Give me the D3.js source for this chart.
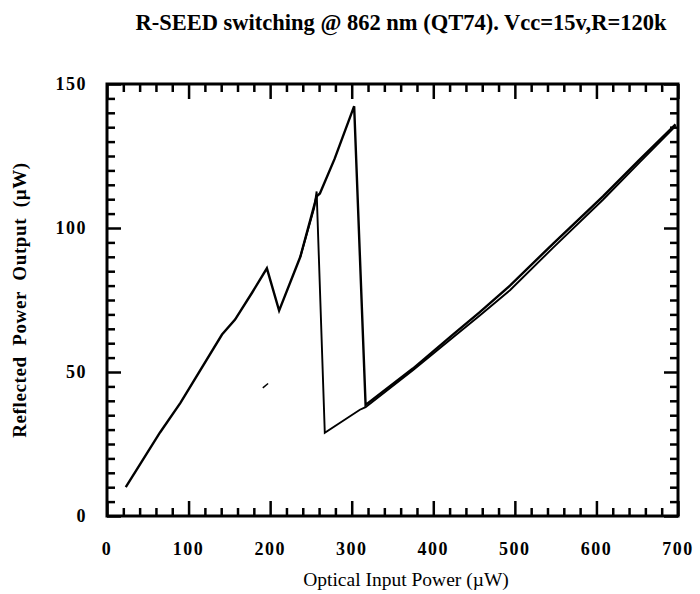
<!DOCTYPE html>
<html>
<head>
<meta charset="utf-8">
<script src="https://cdn.jsdelivr.net/npm/d3@7"></script>
<style>
  body { margin: 0; background: #fff; }
  text { fill: #000; }
</style>
</head>
<body>
<div class="chart"></div>
<script>
const margin = { top: 84, right: 22, bottom: 78, left: 107 };
const fullWidth = 700;
const fullHeight = 594;
const width = fullWidth - margin.left - margin.right;
const height = fullHeight - margin.top - margin.bottom;

// rising sweep (goes up to the 303 peak, then falls onto the lower branch)
const upX = [23, 65, 90, 141, 157, 178, 196, 211, 237, 257, 261, 279, 303, 317, 375, 424, 457, 494, 547, 608, 652, 697];
const upY = [10, 29, 39.3, 63, 68.2, 77.6, 86, 71.3, 90, 111, 112, 124, 142.3, 38.6, 51.2, 63, 70.8, 80, 94.6, 111, 123.5, 136];

// falling sweep (back down the lower branch, jump up near 260)
const downX = [697, 652, 608, 547, 494, 457, 424, 375, 317, 310, 267, 257, 254, 237];
const downY = [135.4, 122.5, 109.8, 93.2, 78.4, 69.6, 62, 50.6, 37.8, 36.9, 28.9, 112.7, 107, 90];

// small stray mark
const strayX = [191, 197.5];
const strayY = [44.5, 46];

const xMajor = [0, 100, 200, 300, 400, 500, 600, 700];
const yMajor = [0, 50, 100, 150];

const title = 'R-SEED switching @ 862 nm (QT74). Vcc=15v,R=120k';
const xLabel = 'Optical Input Power (\u00b5W)';
const yLabel = 'Reflected  Power  Output  (\u00b5W)';

const svg = d3.select('.chart')
    .append('svg')
        .attr('width', fullWidth)
        .attr('height', fullHeight);

const chart = svg.append('g')
    .attr('transform', `translate(${margin.left}, ${margin.top})`);

const xScale = d3.scaleLinear().domain([0, 700]).range([0, width]);
const yScale = d3.scaleLinear().domain([0, 150]).range([height, 0]);

const xMinor = d3.range(0, 701, 20).filter(v => v % 100 !== 0);
const yMinor = d3.range(0, 151, 5).filter(v => v % 50 !== 0);

// ticks, all pointing inward
function ticks(gen, vals, size) {
    return gen.tickValues(vals).tickSizeInner(size).tickSizeOuter(0).tickFormat('');
}
const tickLayers = [
    [d3.axisBottom(xScale), xMinor, -8, `translate(0, ${height})`],
    [d3.axisBottom(xScale), xMajor, -15, `translate(0, ${height})`],
    [d3.axisTop(xScale), xMinor, -8, 'translate(0, 0)'],
    [d3.axisTop(xScale), xMajor, -15, 'translate(0, 0)'],
    [d3.axisLeft(yScale), yMinor, -8, 'translate(0, 0)'],
    [d3.axisLeft(yScale), yMajor, -14, 'translate(0, 0)'],
    [d3.axisRight(yScale), yMinor, -8, `translate(${width}, 0)`],
    [d3.axisRight(yScale), yMajor, -14, `translate(${width}, 0)`]
];
tickLayers.forEach(([gen, vals, size, tr]) => {
    const g = chart.append('g')
        .attr('transform', tr)
        .call(ticks(gen, vals, size));
    g.select('.domain').remove();
    g.selectAll('line').attr('stroke', '#000').attr('stroke-width', 2.5);
});

chart.append('rect')
    .attr('width', width)
    .attr('height', height)
    .attr('fill', 'none')
    .attr('stroke', '#000')
    .attr('stroke-width', 3);

// tick labels
const labelFont = '"Liberation Serif", serif';
chart.append('g').selectAll('text')
    .data(xMajor)
    .enter()
    .append('text')
        .attr('x', d => xScale(d))
        .attr('y', height + 39)
        .attr('text-anchor', 'middle')
        .style('font-family', labelFont)
        .style('font-weight', 'bold')
        .style('font-size', '18px')
        .style('letter-spacing', '1.5px')
        .text(d => d);

chart.append('g').selectAll('text')
    .data(yMajor)
    .enter()
    .append('text')
        .attr('x', -20)
        .attr('y', d => yScale(d) + 6)
        .attr('text-anchor', 'end')
        .style('font-family', labelFont)
        .style('font-weight', 'bold')
        .style('font-size', '18px')
        .style('letter-spacing', '1.5px')
        .text(d => d);

// curves
const line = d3.line()
    .x(d => xScale(d[0]))
    .y(d => yScale(d[1]));

const series = [
    [upX, upY, 2.4],
    [downX, downY, 1.9],
    [strayX, strayY, 1.5]
];
series.forEach(([xs, ys, w]) => {
    chart.append('path')
        .datum(xs.map((x, i) => [x, ys[i]]))
        .attr('d', line)
        .attr('fill', 'none')
        .attr('stroke', '#000')
        .attr('stroke-width', w)
        .attr('stroke-linejoin', 'miter');
});

// titles
svg.append('text')
    .attr('x', 401)
    .attr('y', 30)
    .attr('text-anchor', 'middle')
    .style('font-family', labelFont)
    .style('font-weight', 'bold')
    .style('font-size', '22.5px')
    .text(title);

svg.append('text')
    .attr('x', 406)
    .attr('y', 586)
    .attr('text-anchor', 'middle')
    .style('font-family', labelFont)
    .style('font-size', '19.5px')
    .text(xLabel);

svg.append('text')
    .attr('transform', 'translate(26, 300) rotate(-90)')
    .attr('text-anchor', 'middle')
    .style('font-family', labelFont)
    .style('font-weight', 'bold')
    .style('font-size', '19px')
    .style('letter-spacing', '0.6px')
    .style('white-space', 'pre')
    .text(yLabel);
</script>
</body>
</html>
